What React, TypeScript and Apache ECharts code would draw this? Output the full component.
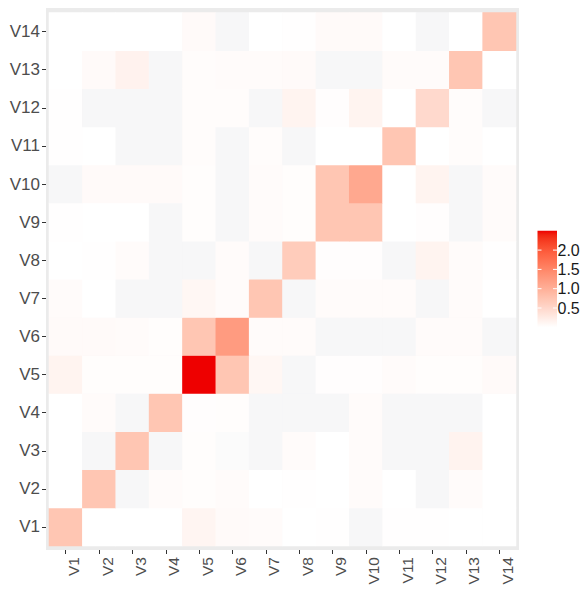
import React, { useEffect, useRef } from "react";
import * as echarts from "echarts";

const categories = ["V1", "V2", "V3", "V4", "V5", "V6", "V7", "V8", "V9", "V10", "V11", "V12", "V13", "V14"];

// each row: values for columns V1..V14 at the given row variable
const rowV1 = [0.73, 0, 0, 0, 0.12, 0.06, 0.05, 0, 0.015, -0.04, 0.015, 0.015, 0, 0];
const rowV2 = [0, 0.73, -0.04, 0.05, 0.03, 0.05, 0, 0.015, 0, 0.05, 0, -0.04, 0.05, 0];
const rowV3 = [0, -0.04, 0.73, -0.04, 0.03, -0.02, -0.04, 0.05, 0, 0.05, -0.04, -0.04, 0.15, 0];
const rowV4 = [0, 0.05, -0.04, 0.73, 0.02, 0.03, -0.04, -0.04, -0.04, 0.05, -0.04, -0.04, -0.04, 0];
const rowV5 = [0.14, 0.03, 0.03, 0.03, 2.5, 0.73, 0.1, -0.04, 0.02, 0.02, 0.05, 0.03, 0.03, 0.06];
const rowV6 = [0.06, 0.06, 0.05, 0.03, 0.73, 1.25, 0.05, 0.05, -0.04, -0.04, -0.04, 0.05, 0.05, -0.04];
const rowV7 = [0.05, 0, -0.04, -0.04, 0.1, 0.05, 0.73, -0.04, 0.05, 0.05, 0.05, -0.04, 0.05, 0];
const rowV8 = [0, 0.015, 0.05, -0.04, -0.04, 0.05, -0.04, 0.65, 0.02, 0.02, -0.04, 0.14, 0.05, 0.015];
const rowV9 = [0.015, 0, 0, -0.04, 0.03, -0.04, 0.05, 0.03, 0.73, 0.73, 0, 0.02, -0.04, 0.05];
const rowV10 = [-0.04, 0.06, 0.06, 0.06, 0.03, -0.04, 0.05, 0.03, 0.73, 1.09, 0, 0.14, -0.04, 0.05];
const rowV11 = [0.015, 0, -0.04, -0.04, 0.04, -0.04, 0.04, -0.04, 0, 0, 0.73, 0, 0.04, 0];
const rowV12 = [0.015, -0.04, -0.04, -0.04, 0.04, 0.04, -0.04, 0.14, 0.02, 0.14, 0, 0.48, 0.04, -0.04];
const rowV13 = [0, 0.06, 0.16, -0.04, 0.04, 0.05, 0.05, 0.06, -0.04, -0.04, 0.05, 0.05, 0.73, 0];
const rowV14 = [0, 0, 0, 0, 0.06, -0.04, 0, 0.015, 0.06, 0.06, 0, -0.04, 0, 0.73];

const rows = [rowV1, rowV2, rowV3, rowV4, rowV5, rowV6, rowV7, rowV8, rowV9, rowV10, rowV11, rowV12, rowV13, rowV14];

const legendTicks = [0.5, 1.0, 1.5, 2.0];
const scaleMin = -0.05;
const scaleMax = 2.5;

// ---- colour scale (white -> red, interpolated in CIELAB like ggplot) ----
const toLin = (c: number) => {
  c /= 255;
  return c <= 0.04045 ? c / 12.92 : Math.pow((c + 0.055) / 1.055, 2.4);
};
const fromLin = (c: number) => {
  const v = c <= 0.0031308 ? 12.92 * c : 1.055 * Math.pow(c, 1 / 2.4) - 0.055;
  return Math.round(Math.max(0, Math.min(1, v)) * 255);
};
const Xn = 0.95047, Yn = 1, Zn = 1.08883;
const f = (t: number) => (t > 0.008856 ? Math.cbrt(t) : 7.787 * t + 16 / 116);
const finv = (t: number) => (t * t * t > 0.008856 ? t * t * t : (t - 16 / 116) / 7.787);
function rgbToLab(r: number, g: number, b: number) {
  const R = toLin(r), G = toLin(g), B = toLin(b);
  const X = 0.4124 * R + 0.3576 * G + 0.1805 * B;
  const Y = 0.2126 * R + 0.7152 * G + 0.0722 * B;
  const Z = 0.0193 * R + 0.1192 * G + 0.9505 * B;
  const fx = f(X / Xn), fy = f(Y / Yn), fz = f(Z / Zn);
  return [116 * fy - 16, 500 * (fx - fy), 200 * (fy - fz)];
}
function labToHex(L: number, a: number, b: number) {
  const fy = (L + 16) / 116, fx = fy + a / 500, fz = fy - b / 200;
  const X = finv(fx) * Xn, Y = finv(fy) * Yn, Z = finv(fz) * Zn;
  const R = 3.2406 * X - 1.5372 * Y - 0.4986 * Z;
  const G = -0.9689 * X + 1.8758 * Y + 0.0415 * Z;
  const B = 0.0557 * X - 0.204 * Y + 1.057 * Z;
  const h = (n: number) => fromLin(n).toString(16).padStart(2, "0");
  return "#" + h(R) + h(G) + h(B);
}
const labLow = rgbToLab(255, 255, 255);
const labHigh = rgbToLab(238, 0, 0);
function colorAt(v: number) {
  if (v < 0) return "#f5f5f6";
  const t = Math.min(1, v / scaleMax);
  return labToHex(
    labLow[0] + (labHigh[0] - labLow[0]) * t,
    labLow[1] + (labHigh[1] - labLow[1]) * t,
    labLow[2] + (labHigh[2] - labLow[2]) * t
  );
}
const STEP = 0.05;
const nStops = Math.round((scaleMax - scaleMin) / STEP) + 1;
const colorStops: string[] = [];
for (let i = 0; i < nStops; i++) colorStops.push(colorAt(scaleMin + i * STEP + 1e-9));

export default function App() {
  const ref = useRef<HTMLDivElement>(null);
  useEffect(() => {
    if (!ref.current) return;
    const chart = echarts.init(ref.current, null, { renderer: "svg" });
    const data: number[][] = [];
    rows.forEach((row, yi) => row.forEach((v, xi) => data.push([xi, yi, v])));

    // legend geometry
    const barX = 537.5, barW = 19.5, barBottom = 327.3, pxPerUnit = 38.6;
    const barTop = barBottom - scaleMax * pxPerUnit;
    const gradStops: { offset: number; color: string }[] = [];
    for (let i = 0; i <= 25; i++) {
      const v = (scaleMax * i) / 25;
      gradStops.push({ offset: i / 25, color: colorAt(v) });
    }
    const legendEls: any[] = [
      {
        type: "rect",
        shape: { x: barX, y: barTop, width: barW, height: barBottom - barTop },
        style: { fill: new echarts.graphic.LinearGradient(0, 1, 0, 0, gradStops) },
        silent: true,
      },
    ];
    legendTicks.forEach((v) => {
      const y = barBottom - v * pxPerUnit;
      legendEls.push({ type: "line", shape: { x1: barX, y1: y, x2: barX + 4, y2: y }, style: { stroke: "#fff", lineWidth: 1 }, silent: true });
      legendEls.push({ type: "line", shape: { x1: barX + barW - 4, y1: y, x2: barX + barW, y2: y }, style: { stroke: "#fff", lineWidth: 1 }, silent: true });
      legendEls.push({
        type: "text",
        x: barX + barW + 0.5,
        y,
        style: { text: v.toFixed(1), fill: "#1a1a1a", fontSize: 16, fontFamily: "Liberation Sans, Arial, sans-serif", verticalAlign: "middle", align: "left" },
        silent: true,
      });
    });

    const axisLabelStyle = { color: "#4d4d4d", fontFamily: "Liberation Sans, Arial, sans-serif" };
    chart.setOption({
      animation: false,
      backgroundColor: "#ffffff",
      grid: { left: 49, top: 12.6, width: 467, height: 533.4, containLabel: false },
      xAxis: {
        type: "category",
        data: categories,
        offset: 4,
        axisLine: { show: false },
        axisTick: { show: true, alignWithLabel: true, length: 4, lineStyle: { color: "#333333", width: 1 } },
        axisLabel: { ...axisLabelStyle, fontSize: 15.5, rotate: 90, margin: 7, verticalAlign: "top", interval: 0 },
        splitLine: { show: false },
      },
      yAxis: {
        type: "category",
        data: categories,
        offset: 3,
        axisLine: { show: false },
        axisTick: { show: true, alignWithLabel: true, length: 4, lineStyle: { color: "#333333", width: 1 } },
        axisLabel: { ...axisLabelStyle, fontSize: 17, margin: 6, interval: 0 },
        splitLine: { show: false },
      },
      visualMap: {
        show: false,
        type: "continuous",
        min: scaleMin,
        max: scaleMax,
        dimension: 2,
        inRange: { color: colorStops },
      },
      graphic: [
        {
          type: "rect",
          z: -10,
          shape: { x: 46, y: 8, width: 473, height: 542 },
          style: { fill: "#ebebeb" },
          silent: true,
        },
        ...legendEls,
      ],
      series: [
        {
          type: "heatmap",
          data,
          itemStyle: { borderWidth: 0 },
          emphasis: { disabled: true },
          z: 2,
        },
      ],
    });
    return () => chart.dispose();
  }, []);
  return <div ref={ref} style={{ position: "fixed", left: 0, top: 0, width: 587, height: 589 }} />;
}
